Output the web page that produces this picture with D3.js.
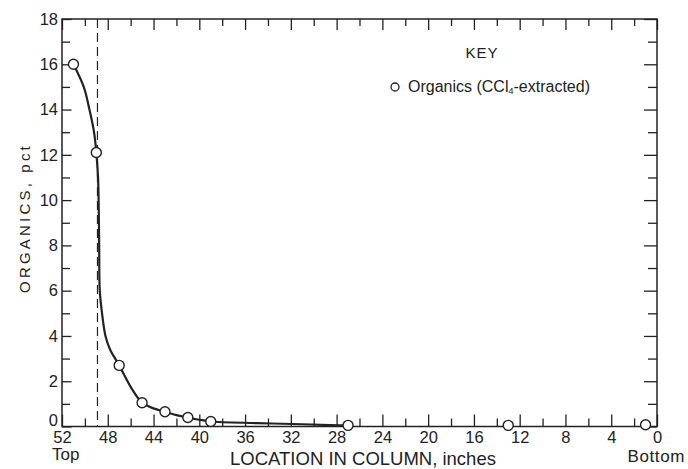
<!DOCTYPE html>
<html>
<head>
<meta charset="utf-8">
<script src="https://cdn.jsdelivr.net/npm/d3@7"></script>
<style>
  body { margin: 0; background: #fff; }
  text { font-family: "Liberation Sans", Arial, sans-serif; fill: #222; }
</style>
</head>
<body>
<div class="chart"></div>
<script>
// measured points (location in column, inches / organics, pct)
const locations = [51, 49, 47, 45, 43, 41, 39, 27, 13, 1];
const organics = [16.0, 12.1, 2.7, 1.05, 0.65, 0.4, 0.22, 0.05, 0.05, 0.08];

// hand drawn curve
const curveLoc = [51, 50.1, 49.6, 49.2, 49.0, 48.85, 48.8, 48.75, 48.7, 48.5, 48.2, 47.8, 47, 46, 45, 44, 43, 42, 41, 40, 39, 35, 31, 28.5, 27];
const curvePct = [16, 15, 14, 13, 12.1, 11, 10, 8, 6, 5, 4, 3.4, 2.7, 1.75, 1.05, 0.8, 0.65, 0.5, 0.4, 0.3, 0.22, 0.15, 0.1, 0.06, 0.05];

const dashedLoc = 48.9;

const xMajor = [52, 48, 44, 40, 36, 32, 28, 24, 20, 16, 12, 8, 4, 0];
const xMinor = [50, 46, 42, 38, 34, 30, 26, 22, 18, 14, 10, 6, 2];
const yMajor = [0, 2, 4, 6, 8, 10, 12, 14, 16, 18];
const yMinor = [1, 3, 5, 7, 9, 11, 13, 15, 17];

makeSVG();

function makeSVG() {
    const svgwidth = 688;
    const svgheight = 469;
    const margin = ({top: 19, right: 31, bottom: 42.5, left: 62});
    const width = svgwidth - margin.left - margin.right;
    const height = svgheight - margin.top - margin.bottom;
    const ink = "#222";

    const svg = d3.select(".chart").append("svg")
        .attr("width", svgwidth)
        .attr("height", svgheight)
        .append("g")
        .attr("transform", `translate(${margin.left},${margin.top})`);

    const xScale = d3.scaleLinear().domain([52, 0]).range([0, width]);
    const yScale = d3.scaleLinear().domain([0, 18]).range([height, 0]);

    function styleAxis(g, size) {
        g.select(".domain").remove();
        g.selectAll("line").attr("stroke", ink).attr("stroke-width", 1.3);
        g.selectAll("text").attr("fill", ink).attr("font-size", size)
            .attr("font-family", "'Liberation Sans', Arial, sans-serif");
    }

    // bottom axis
    svg.append("g").attr("transform", `translate(0,${height})`)
        .call(d3.axisBottom(xScale).tickValues(xMinor).tickSize(-8).tickFormat(""))
        .call(g => styleAxis(g, 16.5));
    svg.append("g").attr("transform", `translate(0,${height})`)
        .call(d3.axisBottom(xScale).tickValues(xMajor).tickSize(-12).tickPadding(4.5))
        .call(g => styleAxis(g, 16.5));

    // top axis
    svg.append("g")
        .call(d3.axisTop(xScale).tickValues(xMinor).tickSize(-7).tickFormat(""))
        .call(g => styleAxis(g, 16.5));
    svg.append("g")
        .call(d3.axisTop(xScale).tickValues(xMajor).tickSize(-11).tickFormat(""))
        .call(g => styleAxis(g, 16.5));

    // left axis
    svg.append("g")
        .call(d3.axisLeft(yScale).tickValues(yMinor).tickSize(-8).tickFormat(""))
        .call(g => styleAxis(g, 16.5));
    svg.append("g")
        .call(d3.axisLeft(yScale).tickValues(yMajor).tickSize(-9.5).tickPadding(4))
        .call(g => styleAxis(g, 16.5))
        .call(g => g.selectAll(".tick text").filter(d => d === 0).attr("dy", "-0.05em"));

    // right axis
    svg.append("g").attr("transform", `translate(${width},0)`)
        .call(d3.axisRight(yScale).tickValues(yMinor).tickSize(-9).tickFormat(""))
        .call(g => styleAxis(g, 16.5));
    svg.append("g").attr("transform", `translate(${width},0)`)
        .call(d3.axisRight(yScale).tickValues(yMajor).tickSize(-13).tickFormat(""))
        .call(g => styleAxis(g, 16.5));

    // frame
    svg.append("rect")
        .attr("width", width).attr("height", height)
        .attr("fill", "none").attr("stroke", ink).attr("stroke-width", 1.5);

    // dashed line
    svg.append("line")
        .attr("x1", xScale(dashedLoc)).attr("x2", xScale(dashedLoc))
        .attr("y1", yScale(18)).attr("y2", yScale(0))
        .attr("stroke", ink).attr("stroke-width", 1.2)
        .attr("stroke-dasharray", "9,5");

    // curve
    const curveData = curveLoc.map((d, i) => [d, curvePct[i]]);
    const line = d3.line()
        .x(d => xScale(d[0]))
        .y(d => yScale(d[1]))
        .curve(d3.curveCatmullRom.alpha(0.5));
    svg.append("path")
        .datum(curveData)
        .attr("d", line)
        .attr("fill", "none")
        .attr("stroke", ink)
        .attr("stroke-width", 2.2);

    // points
    svg.append("g")
        .selectAll("circle")
        .data(locations.map((d, i) => [d, organics[i]]))
        .enter()
        .append("circle")
        .attr("cx", d => xScale(d[0]))
        .attr("cy", d => yScale(d[1]))
        .attr("r", 5)
        .attr("fill", "#fff")
        .attr("stroke", ink)
        .attr("stroke-width", 1.4);

    // end labels
    svg.append("text")
        .attr("x", -10).attr("y", height + 33)
        .attr("font-size", 17)
        .text("Top");
    svg.append("text")
        .attr("x", width + 28).attr("y", height + 35.5)
        .attr("text-anchor", "end")
        .attr("font-size", 17)
        .attr("letter-spacing", 0.6)
        .text("Bottom");

    // axis titles
    svg.append("text")
        .attr("x", 301).attr("y", height + 38.5)
        .attr("text-anchor", "middle")
        .attr("font-size", 18.5)
        .text("LOCATION IN COLUMN, inches");
    svg.append("text")
        .attr("transform", `translate(${30 - margin.left},${218 - margin.top}) rotate(-90)`)
        .attr("text-anchor", "middle")
        .attr("font-size", 15)
        .attr("letter-spacing", 3.2)
        .text("ORGANICS, pct");

    // key
    svg.append("text")
        .attr("x", 482 - margin.left).attr("y", 58 - margin.top)
        .attr("text-anchor", "middle")
        .attr("font-size", 15)
        .attr("letter-spacing", 1)
        .text("KEY");
    svg.append("circle")
        .attr("cx", 395 - margin.left).attr("cy", 87 - margin.top)
        .attr("r", 4)
        .attr("fill", "#fff")
        .attr("stroke", ink)
        .attr("stroke-width", 1.3);
    const key = svg.append("text")
        .attr("x", 408 - margin.left).attr("y", 92 - margin.top)
        .attr("font-size", 16);
    key.append("tspan").text("Organics (CCl");
    key.append("tspan").attr("font-size", 9).attr("dy", 2).text("4");
    key.append("tspan").attr("dy", -2).text("-extracted)");
}
</script>
</body>
</html>
